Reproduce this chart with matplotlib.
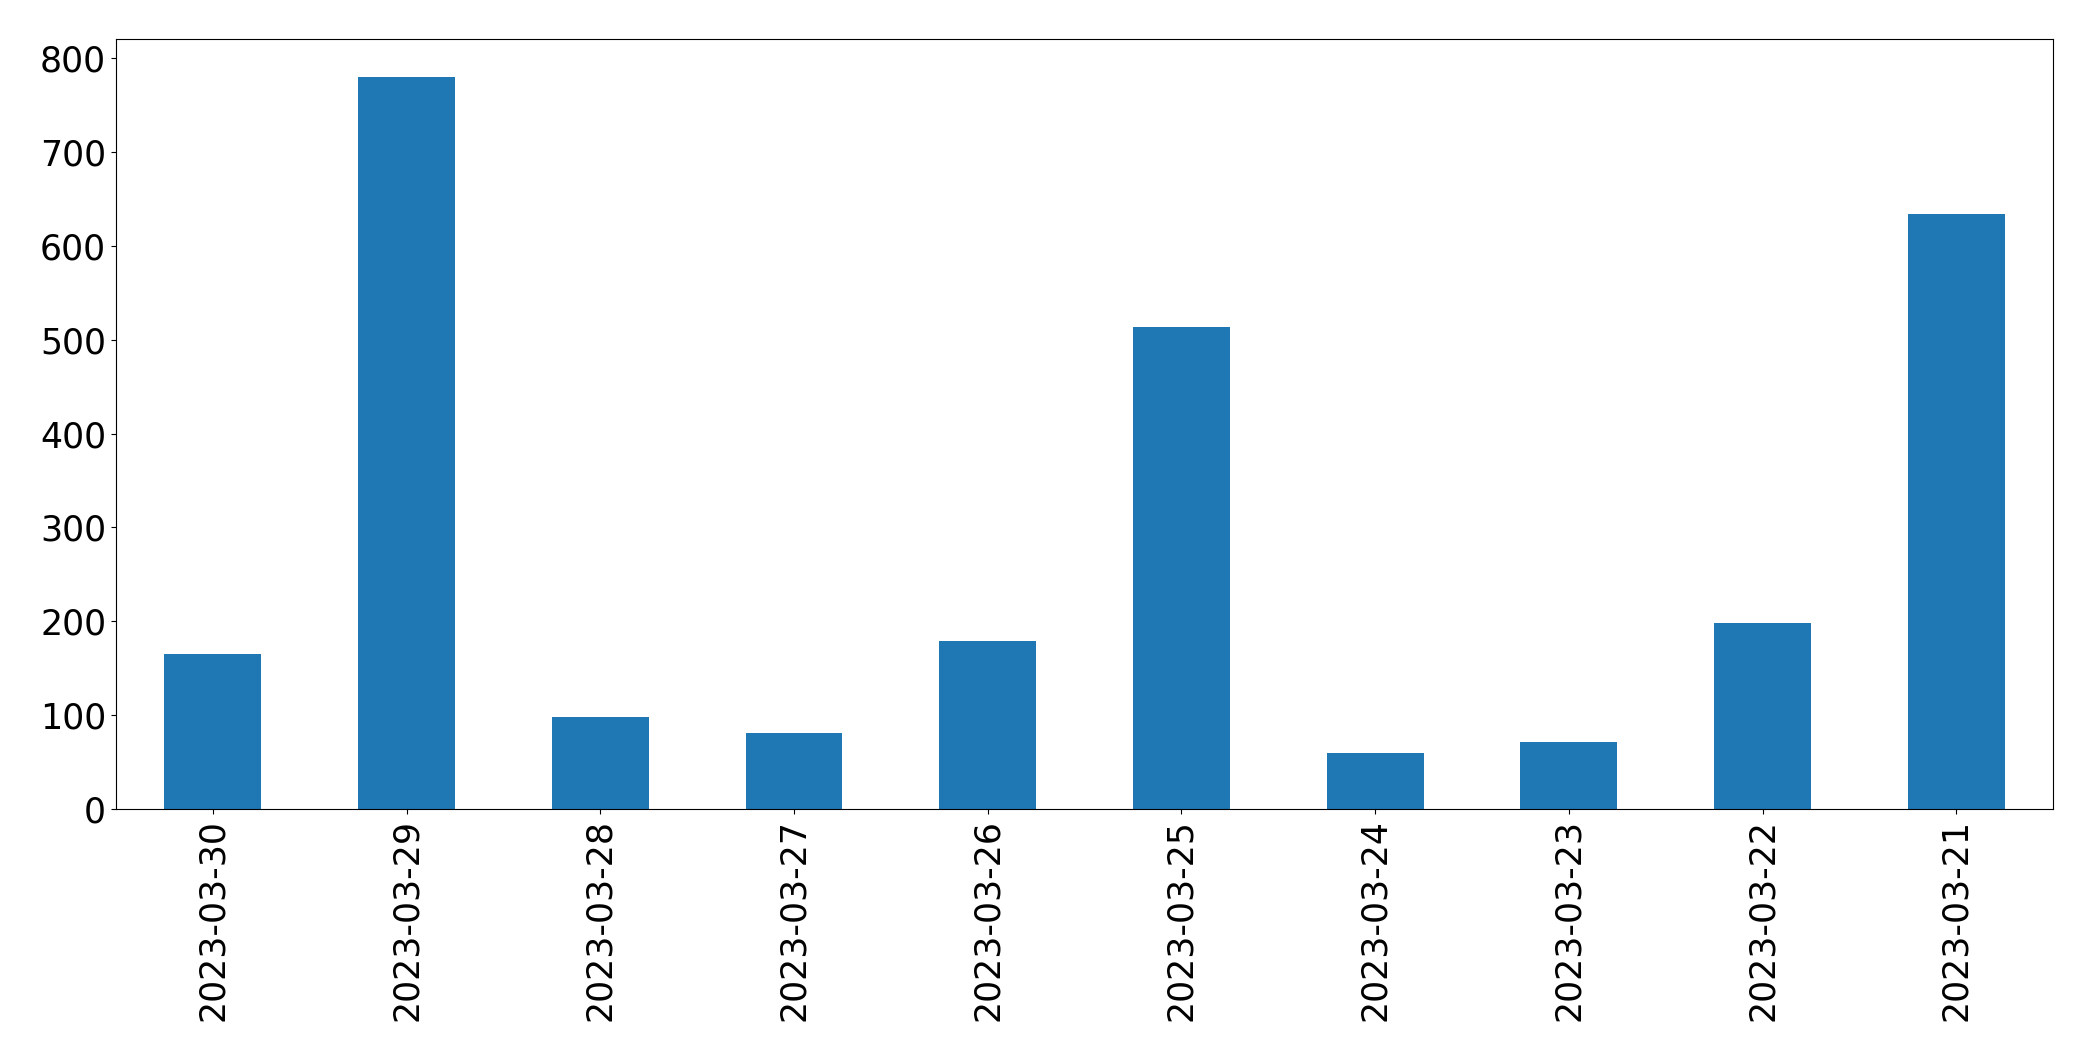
import matplotlib
matplotlib.use("Agg")
import matplotlib.pyplot as plt
import numpy as np

# =========================
# DATA
# =========================
dates = ["2023-03-30", "2023-03-29", "2023-03-28", "2023-03-27", "2023-03-26",
         "2023-03-25", "2023-03-24", "2023-03-23", "2023-03-22", "2023-03-21"]
counts = [165, 780, 98, 81, 179, 514, 60, 71, 198, 634]

# =========================
# PLOT
# =========================
fig = plt.figure(figsize=(20.93, 10.61), dpi=100)
ax = fig.add_axes([0.0554, 0.2375, 0.9256, 0.7255])

x = np.arange(len(dates))
ax.bar(x, counts, width=0.5, color="#1f77b4")
ax.set_xlim(-0.5, len(dates) - 0.5)
ax.set_ylim(0, 820)
ax.set_xticks(x)
ax.set_xticklabels(dates, rotation=90)
ax.tick_params(axis="both", labelsize=25)

fig.savefig("out.png", dpi=100)
